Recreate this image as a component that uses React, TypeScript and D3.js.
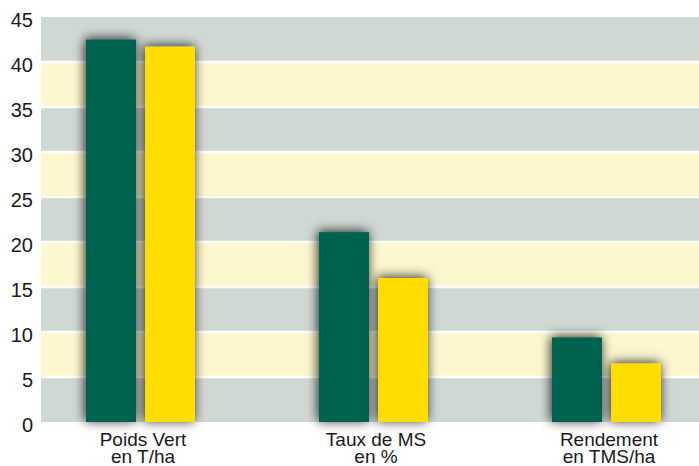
import React, { useEffect, useRef } from 'react';
import * as d3 from 'd3';

const categories = [['Poids Vert', 'en T/ha'], ['Taux de MS', 'en %'], ['Rendement', 'en TMS/ha']];
const seriesGreen = [42.5, 21.1, 9.4];
const seriesYellow = [41.7, 16.0, 6.5];
const yTicks = [0, 5, 10, 15, 20, 25, 30, 35, 40, 45];

const width = 699;
const height = 466;

export default function App() {
  const ref = useRef<SVGSVGElement>(null);

  useEffect(() => {
    document.body.style.margin = '0';
    const svg = d3.select(ref.current);
    svg.selectAll('*').remove();

    const y = d3.scaleLinear().domain([0, 45]).range([422, 17]);
    const x0 = d3.scaleBand().domain(categories.map((c, i) => String(i))).range([24, 723]);
    const x1 = d3.scaleBand().domain(['g', 'y']).range([62, 171]).paddingInner(0.153);

    const defs = svg.append('defs');
    const f = defs.append('filter').attr('id', 'shadow')
      .attr('x', '-50%').attr('y', '-50%').attr('width', '200%').attr('height', '200%');
    f.append('feDropShadow').attr('dx', -1).attr('dy', -1).attr('stdDeviation', 6)
      .attr('flood-color', '#000').attr('flood-opacity', 0.85);

    // background bands
    const bands = d3.range(0, 45, 5);
    svg.append('g').selectAll('rect').data(bands).enter().append('rect')
      .attr('x', 41).attr('width', width - 41)
      .attr('y', d => y(d + 5)).attr('height', d => y(d) - y(d + 5))
      .attr('fill', (d, i) => (i % 2 === 0 ? '#d0d8d4' : '#fdf7cf'));
    svg.append('g').selectAll('line').data(d3.range(5, 45, 5)).enter().append('line')
      .attr('x1', 41).attr('x2', width)
      .attr('y1', d => y(d)).attr('y2', d => y(d))
      .attr('stroke', '#fff').attr('stroke-width', 2.5);

    // bars
    const groups = svg.append('g').selectAll('g').data(categories).enter().append('g')
      .attr('transform', (d, i) => 'translate(' + x0(String(i)) + ',0)');
    groups.append('rect')
      .attr('x', x1('g')!).attr('width', x1.bandwidth())
      .attr('y', (d, i) => y(seriesGreen[i])).attr('height', (d, i) => y(0) - y(seriesGreen[i]))
      .attr('fill', '#006450').attr('filter', 'url(#shadow)');
    groups.append('rect')
      .attr('x', x1('y')!).attr('width', x1.bandwidth())
      .attr('y', (d, i) => y(seriesYellow[i])).attr('height', (d, i) => y(0) - y(seriesYellow[i]))
      .attr('fill', '#ffdd00').attr('filter', 'url(#shadow)');

    // category labels
    const labels = groups.append('text')
      .attr('text-anchor', 'middle')
      .attr('font-family', 'Liberation Sans, Arial, sans-serif')
      .attr('font-size', 19)
      .attr('fill', '#1a1a1a');
    labels.selectAll('tspan').data(d => d).enter().append('tspan')
      .attr('x', 119)
      .attr('y', (d, i) => 446 + i * 17)
      .text(d => d);

    // y axis
    const axis = svg.append('g').attr('transform', 'translate(41,0)')
      .call(d3.axisLeft(y).tickValues(yTicks).tickSize(0).tickPadding(8).tickFormat(d3.format('d')));
    axis.select('.domain').remove();
    axis.selectAll('text')
      .attr('font-family', 'Liberation Sans, Arial, sans-serif')
      .attr('font-size', 20)
      .attr('fill', '#1a1a1a')
      .attr('dy', '0.45em');
  }, []);

  return <svg ref={ref} width={width} height={height} style={{ display: 'block' }} />;
}
